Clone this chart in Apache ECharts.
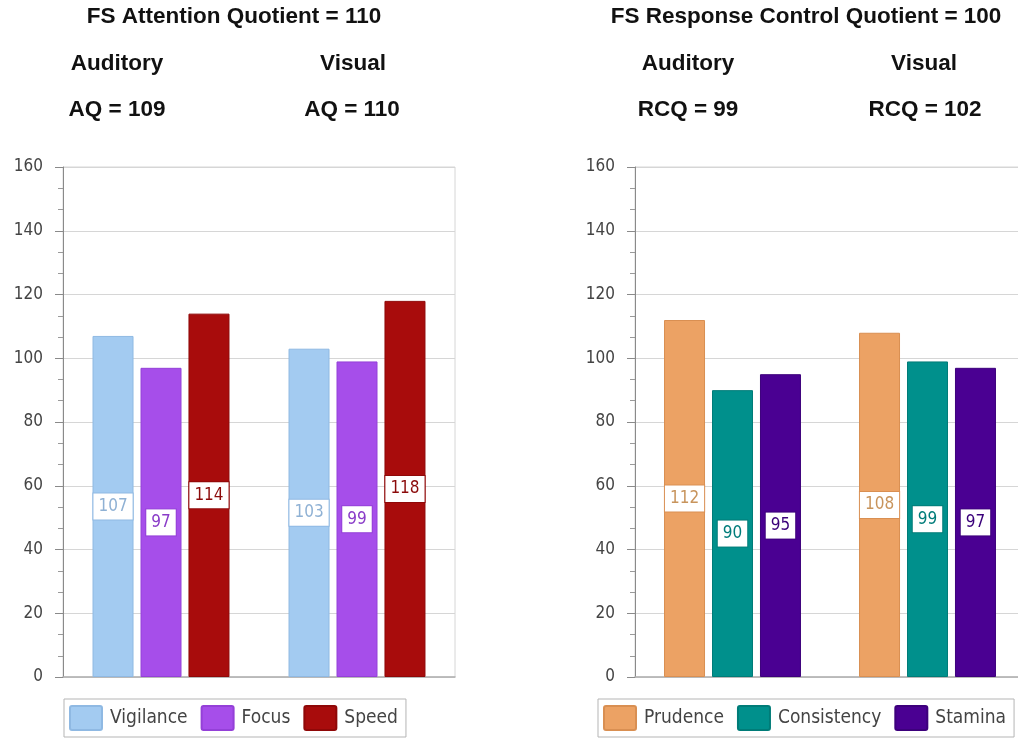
<!DOCTYPE html>
<html>
<head>
<meta charset="utf-8">
<script src="https://cdn.jsdelivr.net/npm/echarts@6/dist/echarts.min.js"></script>
<style>
  html, body { margin: 0; padding: 0; background: #fff; overflow: hidden; }
  /* the right plot runs past the page edge, so the canvas is a little wider than the window */
  #chart { width: 1032px; height: 738px; }
</style>
</head>
<body>
<div id="chart"></div>
<script>
// Modalities shown as the two bar groups in each panel
const modalities = ['Auditory', 'Visual'];

// Attention panel scores
const attentionQuotient = 110;
const attentionByModality = [109, 110];
const vigilance = [107, 103];
const focus = [97, 99];
const speed = [114, 118];

// Response control panel scores
const responseControlQuotient = 100;
const responseByModality = [99, 102];
const prudence = [112, 108];
const consistency = [90, 99];
const stamina = [95, 97];

// Value axis range
const axisMin = 0;
const axisMax = 160;
const axisStep = 20;

const uiFont = '"DejaVu Sans Condensed", "DejaVu Sans", sans-serif';
const headFont = '"Liberation Sans", Arial, sans-serif';
const swatch = 'path://M2,0H30Q32,0 32,2V22Q32,24 30,24H2Q0,24 0,22V2Q0,0 2,0Z';

const chart = echarts.init(document.getElementById('chart'));

function valueAxis(gridIndex) {
  return {
    type: 'value', gridIndex, min: axisMin, max: axisMax, interval: axisStep,
    axisLine: { show: true, lineStyle: { color: '#8a8a8a', width: 1 } },
    axisTick: { show: true, length: 8, lineStyle: { color: '#8a8a8a' } },
    minorTick: { show: true, splitNumber: 3, length: 5, lineStyle: { color: '#9a9a9a' } },
    splitLine: { show: true, lineStyle: { color: '#d6d6d6', width: 1 } },
    axisLabel: { color: '#444', fontSize: 17, fontFamily: uiFont, margin: 20 }
  };
}

function categoryAxis(gridIndex) {
  return {
    type: 'category', gridIndex, data: modalities,
    axisLine: { show: true, lineStyle: { color: '#b0b0b0', width: 1.5 } },
    axisTick: { show: false },
    axisLabel: { show: false }
  };
}

function barSeries(name, values, axisIdx, fill, edge, textColor) {
  return {
    name, type: 'bar', data: values,
    xAxisIndex: axisIdx, yAxisIndex: axisIdx,
    barWidth: 41, barGap: '17%',
    itemStyle: { color: fill, borderColor: edge, borderWidth: 1 },
    label: {
      show: true, position: 'inside',
      color: textColor, fontSize: 17, fontFamily: uiFont,
      backgroundColor: '#fff', borderColor: edge, borderWidth: 1,
      padding: [5, 5, 4, 5]
    }
  };
}

function heading(text, x, y) {
  return {
    type: 'text', x, y,
    style: { text, font: 'bold 22.5px ' + headFont, fill: '#111', align: 'center', verticalAlign: 'middle' }
  };
}

function legendBox(names, left, itemGap) {
  return {
    data: names, left, top: 699,
    orient: 'horizontal',
    icon: swatch, itemWidth: 32, itemHeight: 24, itemGap,
    borderColor: '#b5b5b5', borderWidth: 1, borderRadius: 0,
    padding: [6, 8, 6, 5],
    textStyle: { color: '#444', fontSize: 19, fontFamily: uiFont, padding: [0, 0, 0, 3] }
  };
}

chart.setOption({
  animation: false,
  backgroundColor: '#fff',
  grid: [
    { left: 63, top: 167, width: 392, height: 510, show: true, borderColor: '#d6d6d6', borderWidth: 1, backgroundColor: 'transparent' },
    { left: 635, top: 167, width: 390, height: 510, show: true, borderColor: '#d6d6d6', borderWidth: 1, backgroundColor: 'transparent' }
  ],
  xAxis: [categoryAxis(0), categoryAxis(1)],
  yAxis: [valueAxis(0), valueAxis(1)],
  legend: [
    legendBox(['Vigilance', 'Focus', 'Speed'], 64, 13),
    legendBox(['Prudence', 'Consistency', 'Stamina'], 598, 13)
  ],
  series: [
    barSeries('Vigilance', vigilance, 0, '#a3cbf1', '#8fb9e3', '#8fb1d4'),
    barSeries('Focus', focus, 0, '#a64eea', '#9440d8', '#8a3cc8'),
    barSeries('Speed', speed, 0, '#a80c0c', '#8f0808', '#8b0a0a'),
    barSeries('Prudence', prudence, 1, '#eca264', '#d98f52', '#c8945c'),
    barSeries('Consistency', consistency, 1, '#00908c', '#007c78', '#007c7a'),
    barSeries('Stamina', stamina, 1, '#4a0092', '#3d007c', '#3a007a')
  ],
  graphic: [
    heading('FS Attention Quotient = ' + attentionQuotient, 234, 17),
    heading(modalities[0], 117, 64),
    heading(modalities[1], 353, 64),
    heading('AQ = ' + attentionByModality[0], 117, 110),
    heading('AQ = ' + attentionByModality[1], 352, 110),
    heading('FS Response Control Quotient = ' + responseControlQuotient, 806, 17),
    heading(modalities[0], 688, 64),
    heading(modalities[1], 924, 64),
    heading('RCQ = ' + responseByModality[0], 688, 110),
    heading('RCQ = ' + responseByModality[1], 925, 110)
  ]
});
</script>
</body>
</html>
